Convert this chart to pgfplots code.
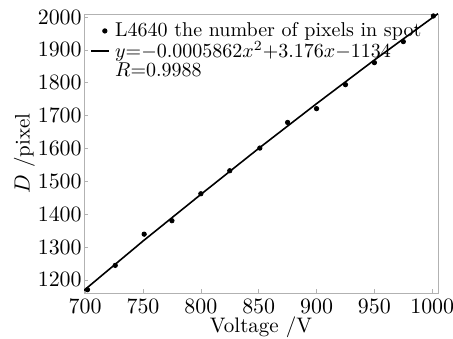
\documentclass[border=0pt]{standalone}
\usepackage{pgfplots}
\pgfplotsset{compat=1.18}
\begin{document}
\begin{tikzpicture}
\begin{axis}[
  scale only axis,
  width=177pt, height=139.5pt,
  xmin=699, xmax=1005,
  ymin=1160, ymax=2009,
  xtick={700,750,...,1000},
  ytick={1200,1300,...,2000},
  /pgf/number format/set thousands separator={},
  tick align=inside,
  xtick pos=bottom, ytick pos=left,
  major tick length=2pt,
  axis line style={draw=gray!60},
  tick style={draw=gray!60},
  ticklabel style={font=\fontsize{10.5}{12}\selectfont},
  xticklabel style={inner sep=1pt, yshift=-2pt},
  yticklabel style={inner sep=1pt},
  xlabel={Voltage /V},
  ylabel={$D$ /pixel},
  label style={font=\fontsize{10.5}{12}\selectfont},
  xlabel style={at={(axis description cs:0.5,0)}, anchor=north, yshift=-10.5pt, inner sep=1pt},
  ylabel style={at={(axis description cs:0,0.5)}, anchor=south, yshift=21pt},
  legend style={draw=none, fill=none, at={(0,1)}, anchor=north west,
    font=\fontsize{10}{11}\selectfont, inner sep=1pt, xshift=2pt, yshift=-1pt,
    row sep=-3pt, nodes={inner xsep=2.5pt}},
  legend cell align=left,
]
\addplot[only marks, mark=*, mark size=1.1pt, black,
  legend image code/.code={\draw[black, mark=*, mark size=1.1pt, only marks] plot coordinates {(0.24cm,0cm)};}] coordinates {
(702,1170) (726,1244) (751,1339) (775,1380) (800,1462) (825,1532)
(851,1601) (875,1679) (900,1721) (925,1794) (950,1861) (975,1925) (1001,2003)
};
\addlegendentry{L4640 the number of pixels in spot}
\addplot[black, line width=0.8pt, legend image code/.code={\draw[black, line width=0.8pt] (0cm,0cm) -- (0.32cm,0cm);}] coordinates {
(699,1168) (750,1318) (800,1460) (850,1600) (900,1736) (950,1869) (1005,2010)
};
\addlegendentry{$y{=}{-}0.0005862x^2{+}3.176x{-}1134$}
\addlegendimage{empty legend}
\addlegendentry{$R{=}0.9988$}
\end{axis}
\pgfresetboundingbox
\path ([shift={(-42pt,-23pt)}]current axis.south west) rectangle ([shift={(7.5pt,7pt)}]current axis.north east);
\end{tikzpicture}
\end{document}
